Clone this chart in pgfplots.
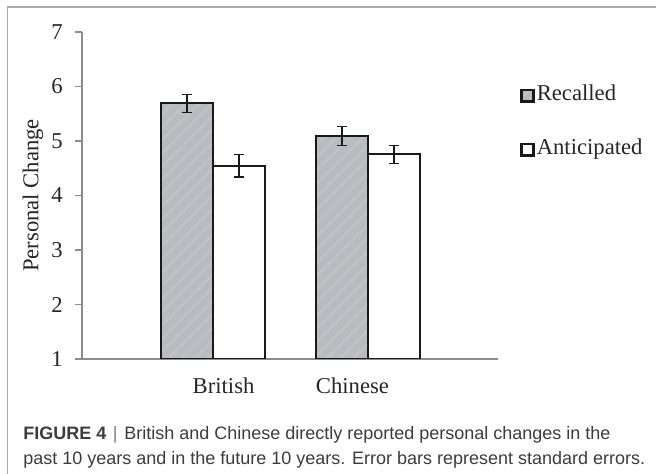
\documentclass[border=0pt]{standalone}
\usepackage{fontspec}
\setmainfont{Liberation Serif}
\newfontfamily\capfont{Liberation Sans}
\usepackage{pgfplots}
\pgfplotsset{compat=1.18}
\usetikzlibrary{patterns.meta}
\definecolor{barfill}{RGB}{186,187,192}
\definecolor{hatch}{RGB}{193,194,198}
\definecolor{axgray}{RGB}{140,140,140}
\definecolor{framegray}{RGB}{170,170,170}
\definecolor{captext}{RGB}{60,60,60}
\begin{document}
\begin{tikzpicture}
\useasboundingbox (0,0) rectangle (492pt,355.5pt);
\draw[framegray, line width=1.1pt] (5.6pt,0) -- (5.6pt,350.25pt) -- (492pt,350.25pt);
\begin{axis}[
  at={(61.5pt,86.25pt)}, anchor=south west,
  scale only axis, width=312pt, height=245.25pt,
  ybar=0pt, bar width=39pt,
  xmin=0.1548, xmax=2.8387, ymin=1, ymax=7,
  ytick={1,2,3,4,5,6,7},
  xtick={1.068,1.9}, xticklabels={British,Chinese},
  /pgf/number format/assume math mode=true,
  axis x line*=bottom, axis y line*=left,
  axis line style={axgray, line width=1.1pt, -},
  ytick style={axgray, line width=1.1pt},
  xtick style={draw=none},
  tick align=outside, major tick length=5.25pt,
  tick label style={font=\fontsize{17}{20}\selectfont, text=black!85},
  yticklabel style={anchor=east, inner sep=0pt, xshift=-9pt},
  xticklabel style={anchor=base, inner sep=0pt, yshift=-21pt},
  ylabel={Personal Change},
  ylabel style={at={(axis description cs:-0.1178,0.5)}, anchor=center, font=\fontsize{17}{20}\selectfont, text=black!85},
  legend style={at={(axis description cs:1.053,0.723)}, anchor=west, draw=none, fill=none, inner sep=0pt,
    font=\fontsize{17}{20}\selectfont, text=black!85, row sep=24.5pt,
    nodes={inner sep=0pt, text height=12pt, text depth=4pt, anchor=west}},
  legend cell align=left,
  legend image code/.code={\draw[#1, line width=2.2pt] (1pt,-4.6pt) rectangle (9.8pt,4.2pt); \path (11.5pt,0);},
]
\addplot[draw=black!90, line width=1.5pt, preaction={fill=barfill},
  pattern={Lines[angle=45,distance=7pt,line width=2pt]}, pattern color=hatch,
  error bars/.cd, y dir=both, y explicit,
  error bar style={black!90, line width=0.8pt},
  error mark options={rotate=90, mark size=3.4pt, black!90, line width=0.8pt}]
  coordinates {(1,5.69) +- (0,0.17) (2,5.09) +- (0,0.175)};
\addlegendentry{Recalled}
\addplot[draw=black!90, line width=1.5pt, fill=white,
  error bars/.cd, y dir=both, y explicit,
  error bar style={black!90, line width=0.8pt},
  error mark options={rotate=90, mark size=3.4pt, black!90, line width=0.8pt}]
  coordinates {(1,4.55) +- (0,0.21) (2,4.755) +- (0,0.16)};
\addlegendentry{Anticipated}
\end{axis}
\node[anchor=base west, inner sep=0pt, font=\capfont\fontsize{13.5}{16}\selectfont, text=captext] at (17.25pt,25.5pt)
  {\textbf{FIGURE 4}\hspace{5pt}{\color{gray}|}\hspace{5pt}British and Chinese directly reported personal changes in the};
\node[anchor=base west, inner sep=0pt, font=\capfont\fontsize{13.5}{16}\selectfont, text=captext] at (17.25pt,6.75pt)
  {past 10 years and in the future 10 years. Error bars represent standard errors.};
\end{tikzpicture}
\end{document}
